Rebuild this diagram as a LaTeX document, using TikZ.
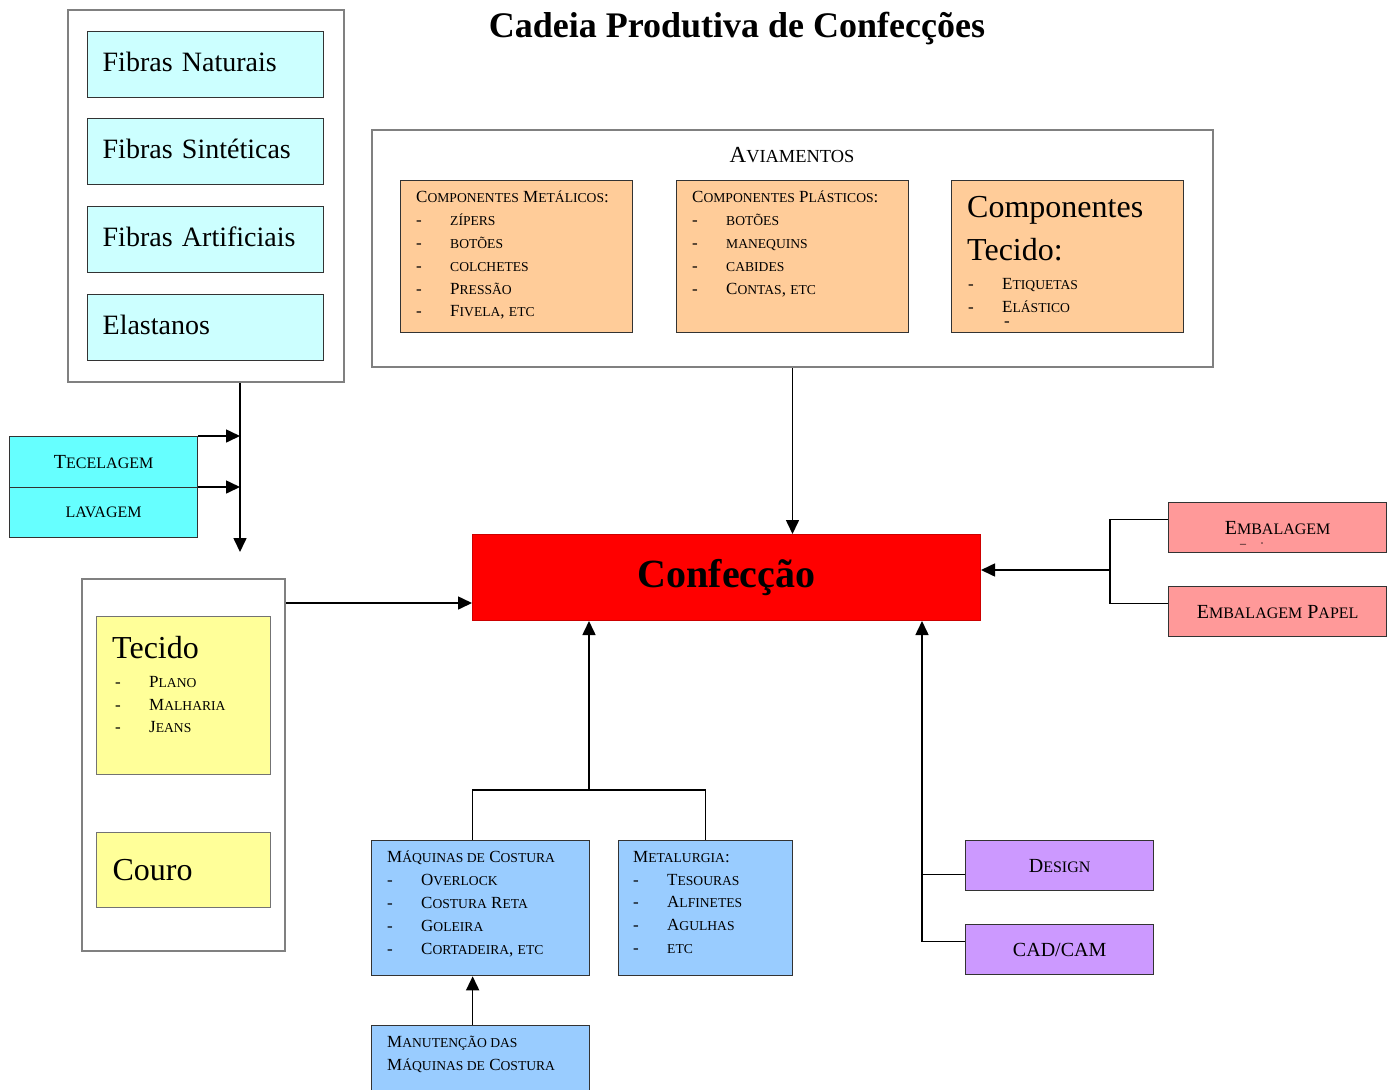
\documentclass[tikz,border=0pt]{standalone}
\usepackage{fontspec}
\setmainfont{Liberation Serif}
\usetikzlibrary{arrows.meta}
\definecolor{fibra}{HTML}{CCFFFF}
\definecolor{tecel}{HTML}{66FFFF}
\definecolor{amar}{HTML}{FFFF99}
\definecolor{laranja}{HTML}{FFCC99}
\definecolor{rosa}{HTML}{FF9999}
\definecolor{roxo}{HTML}{CC99FF}
\definecolor{azul}{HTML}{99CCFF}
\makeatletter
\newdimen\smdim
\newcommand\Sm[1]{{\smdim=\f@size pt\relax\smdim=0.8\smdim\fontsize{\strip@pt\smdim}{\f@baselineskip}\selectfont #1}}
\makeatother
\newcommand\itm[1]{\makebox[34pt][l]{-}#1}
\begin{document}
\begin{tikzpicture}[x=1pt,y=-1pt,
  container/.style={draw=black!50, line width=2pt, fill=white, inner sep=0pt, anchor=north west},
  cbox/.style={draw=black!80, line width=1.3pt, inner sep=0pt, anchor=north west},
  txt/.style={anchor=north west, align=left, inner sep=0pt},
  arr/.style={-{Triangle[length=14pt,width=13pt]}, line width=1.6pt},
  conn/.style={line width=1.6pt},
  fbox/.style={cbox, fill=fibra, minimum width=236pt, minimum height=66pt, text width=206pt, inner xsep=15pt, align=left, text depth=6pt, font=\fontsize{28}{32}\selectfont},
  body/.style={font=\fontsize{17}{22.8}\selectfont},
  lab/.style={font=\fontsize{20}{24}\selectfont}]
\useasboundingbox (0,0) rectangle (1393,1090);
\clip (0,0) rectangle (1393,1090);

% title
\node[font=\bfseries\fontsize{36}{40}\selectfont, anchor=base] (title) at (737,37) {Cadeia Produtiva de Confecções};

% fibras
\node[container, minimum width=276pt, minimum height=372pt] (fibras) at (67,9) {};
\node[fbox] (fn) at (87,31) {Fibras Naturais};
\node[fbox] (fs) at (87,118) {Fibras Sintéticas};
\node[fbox] (fa) at (87,206) {Fibras Artificiais};
\node[fbox] (fe) at (87,294) {Elastanos};

% tecelagem / lavagem
\node[cbox, fill=tecel, minimum width=188pt, minimum height=51pt, lab] (tec) at (9,436) {T\Sm{ECELAGEM}};
\node[cbox, fill=tecel, minimum width=188pt, minimum height=50pt, lab] (lav) at (9,487) {\Sm{LAVAGEM}};
\coordinate (down) at (240,552);
\draw[arr] (fibras.south -| down) -- (down);
\draw[arr] (tec.north east) -- (tec.north east -| down);
\draw[arr] (lav.north east) -- (lav.north east -| down);

% tecido / couro
\node[container, minimum width=203pt, minimum height=372pt] (tcont) at (81,578) {};
\node[cbox, fill=amar, draw=black!55, line width=1pt, minimum width=174pt, minimum height=158pt] (tecido) at (96,616) {};
\node[txt, font=\fontsize{32}{36}\selectfont] (tecidoT) at (112,636) {Tecido};
\node[txt, body] (tecidoL) at (115,676) {\itm{P\Sm{LANO}}\\ \itm{M\Sm{ALHARIA}}\\ \itm{J\Sm{EANS}}};
\node[cbox, fill=amar, draw=black!55, line width=1pt, minimum width=174pt, minimum height=75pt, text width=142pt, inner xsep=16pt, align=left, font=\fontsize{32}{36}\selectfont] (couro) at (96,832) {Couro};

% confeccao
\node[cbox, fill=red, draw=red!80!black, line width=1pt, minimum width=508pt, minimum height=86pt, font=\bfseries\fontsize{40}{44}\selectfont] (conf) at (472,534) {Confecção};
\draw[arr] (tcont.east |- 0,603) -- (conf.west |- 0,603);

% aviamentos
\node[container, minimum width=841pt, minimum height=237pt] (avi) at (371,129) {};
\node[font=\fontsize{23}{26}\selectfont] (aviT) at (792,155) {A\Sm{VIAMENTOS}};
\node[cbox, fill=laranja, minimum width=232pt, minimum height=152pt] (met) at (400,180) {};
\node[txt, body] (metT) at (416,191) {C\Sm{OMPONENTES} M\Sm{ETÁLICOS}:\\ \itm{\Sm{ZÍPERS}}\\ \itm{\Sm{BOTÕES}}\\ \itm{\Sm{COLCHETES}}\\ \itm{P\Sm{RESSÃO}}\\ \itm{F\Sm{IVELA}, \Sm{ETC}}};
\node[cbox, fill=laranja, minimum width=232pt, minimum height=152pt] (pla) at (676,180) {};
\node[txt, body] (plaT) at (692,191) {C\Sm{OMPONENTES} P\Sm{LÁSTICOS}:\\ \itm{\Sm{BOTÕES}}\\ \itm{\Sm{MANEQUINS}}\\ \itm{\Sm{CABIDES}}\\ \itm{C\Sm{ONTAS}, \Sm{ETC}}};
\node[cbox, fill=laranja, minimum width=232pt, minimum height=152pt] (ctec) at (951,180) {};
\node[txt, font=\fontsize{32}{43}\selectfont] (ctecT) at (967,196) {Componentes\\ Tecido:};
\node[txt, body] (ctecL) at (968,278) {\itm{E\Sm{TIQUETAS}}\\ \itm{E\Sm{LÁSTICO}}\\[-8pt] \hspace*{36pt}-};
\draw[arr] (avi.south) -- (conf.north -| avi.south);

% embalagem
\node[cbox, fill=rosa, minimum width=218pt, minimum height=50pt, lab] (emb) at (1168,502) {E\Sm{MBALAGEM}};
\node[inner sep=0pt, font=\fontsize{12}{12}\selectfont] (embmark) at (1252,545) {–\hspace{14pt}·};
\node[cbox, fill=rosa, minimum width=218pt, minimum height=50pt, lab] (pap) at (1168,586) {E\Sm{MBALAGEM} P\Sm{APEL}};
\coordinate (ej) at (1110,570);
\draw[conn] ([yshift=8pt]emb.west) -| (ej) |- ([yshift=8pt]pap.west);
\draw[arr] (ej) -- (ej -| conf.east);

% design / cad
\node[cbox, fill=roxo, minimum width=188pt, minimum height=50pt, lab] (des) at (965,840) {D\Sm{ESIGN}};
\node[cbox, fill=roxo, minimum width=188pt, minimum height=50pt, lab] (cad) at (965,924) {CAD/CAM};
\coordinate (dj) at (922,0);
\draw[conn] ([yshift=-9pt]des.west) -- ([yshift=-9pt]des.west -| dj);
\draw[arr] ([yshift=8pt]cad.west) -| (dj |- conf.south);

% maquinas / metalurgia
\node[cbox, fill=azul, minimum width=218pt, minimum height=135pt] (maq) at (371,840) {};
\node[txt, body] (maqT) at (387,851) {M\Sm{ÁQUINAS DE} C\Sm{OSTURA}\\ \itm{O\Sm{VERLOCK}}\\ \itm{C\Sm{OSTURA} R\Sm{ETA}}\\ \itm{G\Sm{OLEIRA}}\\ \itm{C\Sm{ORTADEIRA}, \Sm{ETC}}};
\node[cbox, fill=azul, minimum width=174pt, minimum height=135pt] (mtl) at (618,840) {};
\node[txt, body] (mtlT) at (633,851) {M\Sm{ETALURGIA}:\\ \itm{T\Sm{ESOURAS}}\\ \itm{A\Sm{LFINETES}}\\ \itm{A\Sm{GULHAS}}\\ \itm{\Sm{ETC}}};
\node[cbox, fill=azul, minimum width=218pt, minimum height=100pt] (man) at (371,1025) {};
\node[txt, body] (manT) at (387,1036) {M\Sm{ANUTENÇÃO DAS}\\ M\Sm{ÁQUINAS DE} C\Sm{OSTURA}};
\coordinate (bj) at (589,790);
\draw[conn] ([xshift=-8pt]maq.north) |- (bj) -| (mtl.north);
\draw[arr] (bj) -- (bj |- conf.south);
\draw[arr] ([xshift=-8pt]man.north) -- ([xshift=-8pt]maq.south);
\end{tikzpicture}
\end{document}
